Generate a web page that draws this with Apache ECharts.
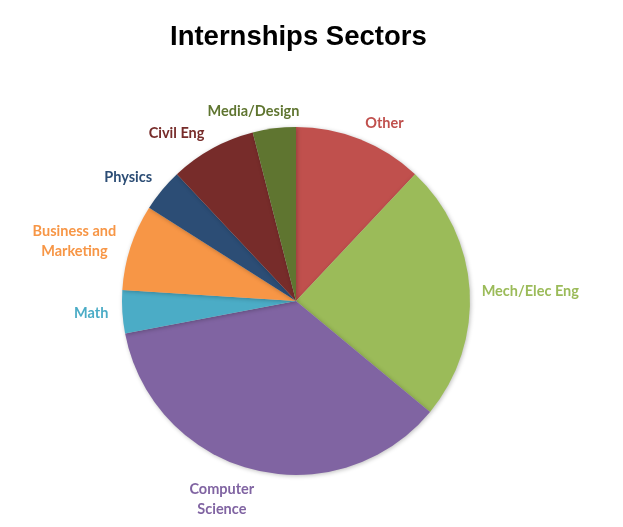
<!DOCTYPE html>
<html><head><meta charset="utf-8">
<script src="https://cdn.jsdelivr.net/npm/echarts@6/dist/echarts.min.js"></script>
<style>html,body{margin:0;padding:0;background:#fff}#c{width:623px;height:527px}</style>
</head><body><div id="c"></div>
<script>
var categories = ['Other', 'Mech/Elec Eng', 'Computer\nScience', 'Math', 'Business and\nMarketing', 'Physics', 'Civil Eng', 'Media/Design'];
var values = [3, 6, 9, 1, 2, 1, 2, 1];
var colors = ['#C0504D', '#9BBB59', '#8064A2', '#4BACC6', '#F79646', '#2C4D75', '#772C2A', '#5F7530'];
// small label nudges (style only)
var labelNudgeX = [-9, -11, 14, 9, 8, 10, 8, 36];
var labelNudgeY = [-3, 2, 16, 1, -2, -4, -3, -3];

var chart = echarts.init(document.getElementById('c'));
chart.setOption({
  animation: false,
  title: {
    text: 'Internships Sectors', left: 165, top: 18, padding: 5,
    textStyle: { fontFamily: 'Liberation Sans', fontSize: 27.5, fontWeight: 'bold', color: '#000' }
  },
  series: [{
    type: 'pie',
    center: [296, 301],
    radius: 174,
    startAngle: 90,
    clockwise: true,
    avoidLabelOverlap: false,
    data: categories.map(function (c, i) {
      return { name: c, value: values[i], itemStyle: { color: colors[i] }, label: { color: colors[i] } };
    }),
    itemStyle: { shadowBlur: 4, shadowColor: 'rgba(0,0,0,0.25)', shadowOffsetX: 1, shadowOffsetY: 1 },
    label: {
      show: true, position: 'outside', formatter: '{b}',
      fontFamily: 'Lato', fontWeight: 'bold', fontSize: 14.5, lineHeight: 20
    },
    labelLine: { show: false, length: 14, length2: 4 },
    labelLayout: function (p) {
      var r = p.labelRect;
      return {
        x: r.x + r.width / 2 + labelNudgeX[p.dataIndex],
        y: r.y + r.height / 2 + labelNudgeY[p.dataIndex],
        align: 'center', verticalAlign: 'middle'
      };
    }
  }]
});
</script></body></html>
